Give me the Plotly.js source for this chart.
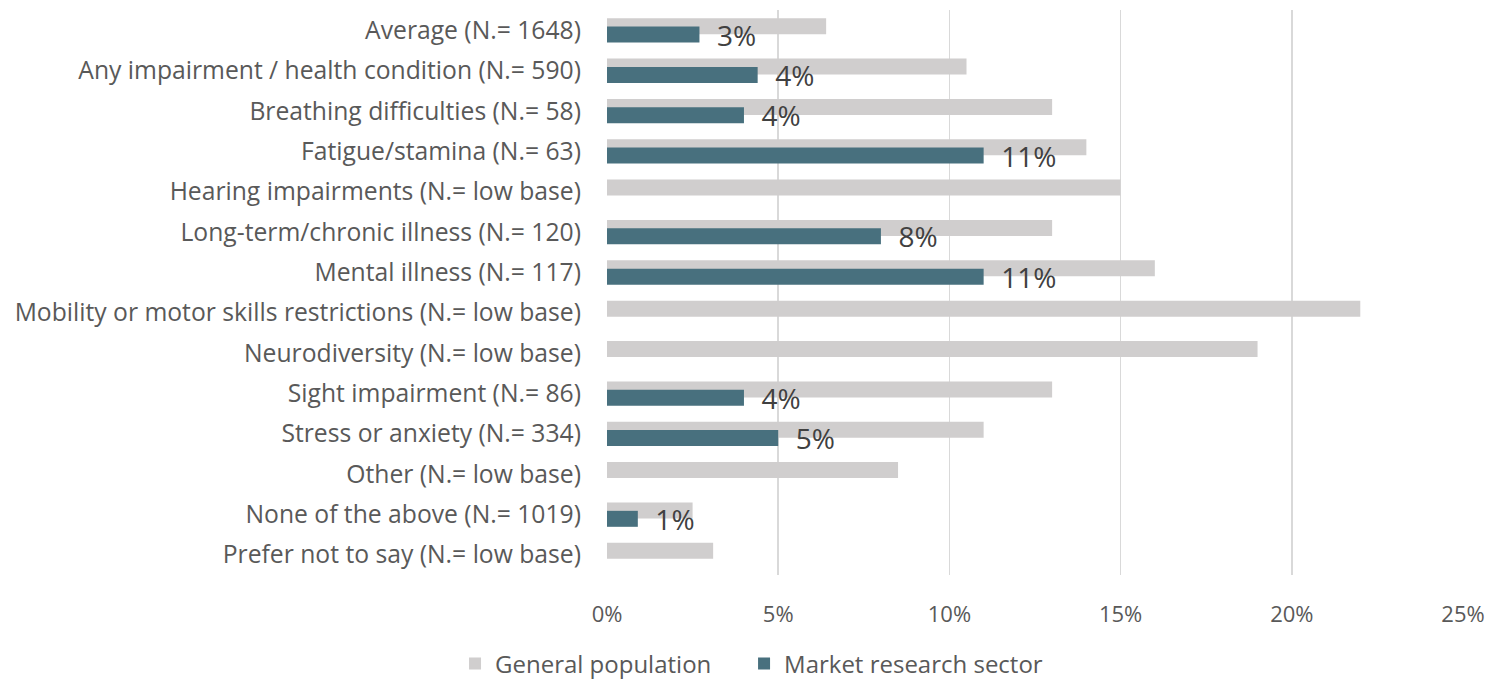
<!DOCTYPE html>
<html>
<head>
<meta charset="utf-8">
<script src="https://cdn.plot.ly/plotly-3.0.1.min.js"></script>
<style>html,body{margin:0;padding:0;background:#fff;}#chart{width:1489px;height:683px;}</style>
</head>
<body>
<div id="chart"></div>
<script>
const categories = [
  "Average (N.= 1648)",
  "Any impairment / health condition (N.= 590)",
  "Breathing difficulties (N.= 58)",
  "Fatigue/stamina (N.= 63)",
  "Hearing impairments (N.= low base)",
  "Long-term/chronic illness (N.= 120)",
  "Mental illness (N.= 117)",
  "Mobility or motor skills restrictions (N.= low base)",
  "Neurodiversity (N.= low base)",
  "Sight impairment (N.= 86)",
  "Stress or anxiety (N.= 334)",
  "Other (N.= low base)",
  "None of the above (N.= 1019)",
  "Prefer not to say (N.= low base)"
];
const generalPopulation = [0.064, 0.105, 0.13, 0.14, 0.15, 0.13, 0.16, 0.22, 0.19, 0.13, 0.11, 0.085, 0.025, 0.031];
const marketResearch = [0.027, 0.044, 0.040, 0.110, null, 0.080, 0.110, null, null, 0.040, 0.050, null, 0.009, null];
const xTicks = [0, 0.05, 0.10, 0.15, 0.20, 0.25];

const FONT = "'Open Sans', 'Noto Sans', sans-serif";

const traces = [
  {
    type: 'bar', orientation: 'h', name: 'General population',
    y: categories, x: generalPopulation,
    marker: {color: '#d0cece'},
    width: 0.396, offset: -0.297,
    legend: 'legend',
    hoverinfo: 'x+y'
  },
  {
    type: 'bar', orientation: 'h', name: 'Market research sector',
    y: categories, x: marketResearch,
    marker: {color: '#48707e'},
    width: 0.396, offset: -0.09,
    text: marketResearch.map(v => v == null ? '' : '\u00a0\u00a0' + Math.round(v * 100) + '%'),
    textposition: 'outside',
    constraintext: 'none',
    cliponaxis: false,
    textfont: {family: FONT, size: 28, color: '#404040'},
    legend: 'legend2',
    hoverinfo: 'x+y'
  }
];

const legendBase = {
  orientation: 'h', xref: 'container', yref: 'container',
  xanchor: 'left', y: 0.028, yanchor: 'middle',
  font: {family: FONT, size: 24, color: '#595959'}
};

const layout = {
  width: 1489, height: 683,
  margin: {l: 607, r: 26, t: 10, b: 108},
  paper_bgcolor: '#fff', plot_bgcolor: '#fff',
  barmode: 'overlay',
  font: {family: FONT, color: '#595959', size: 22},
  xaxis: {
    range: [0, 0.25], tickvals: xTicks, tickformat: '.0%',
    showgrid: true, gridcolor: '#d9d9d9', gridwidth: 1.5,
    zeroline: false, showline: false, ticks: '',
    ticklabelstandoff: 24,
    tickfont: {family: FONT, size: 22, color: '#595959'},
    fixedrange: true
  },
  yaxis: {
    type: 'category', autorange: 'reversed',
    showgrid: false, zeroline: false, showline: false, ticks: '',
    ticklabelstandoff: 25,
    tickfont: {family: FONT, size: 24.7, color: '#595959'},
    fixedrange: true
  },
  showlegend: true,
  legend: Object.assign({}, legendBase, {x: 0.3056}),
  legend2: Object.assign({}, legendBase, {x: 0.4997})
};

Plotly.newPlot('chart', traces, layout, {displayModeBar: false, staticPlot: true});
</script>
</body>
</html>
